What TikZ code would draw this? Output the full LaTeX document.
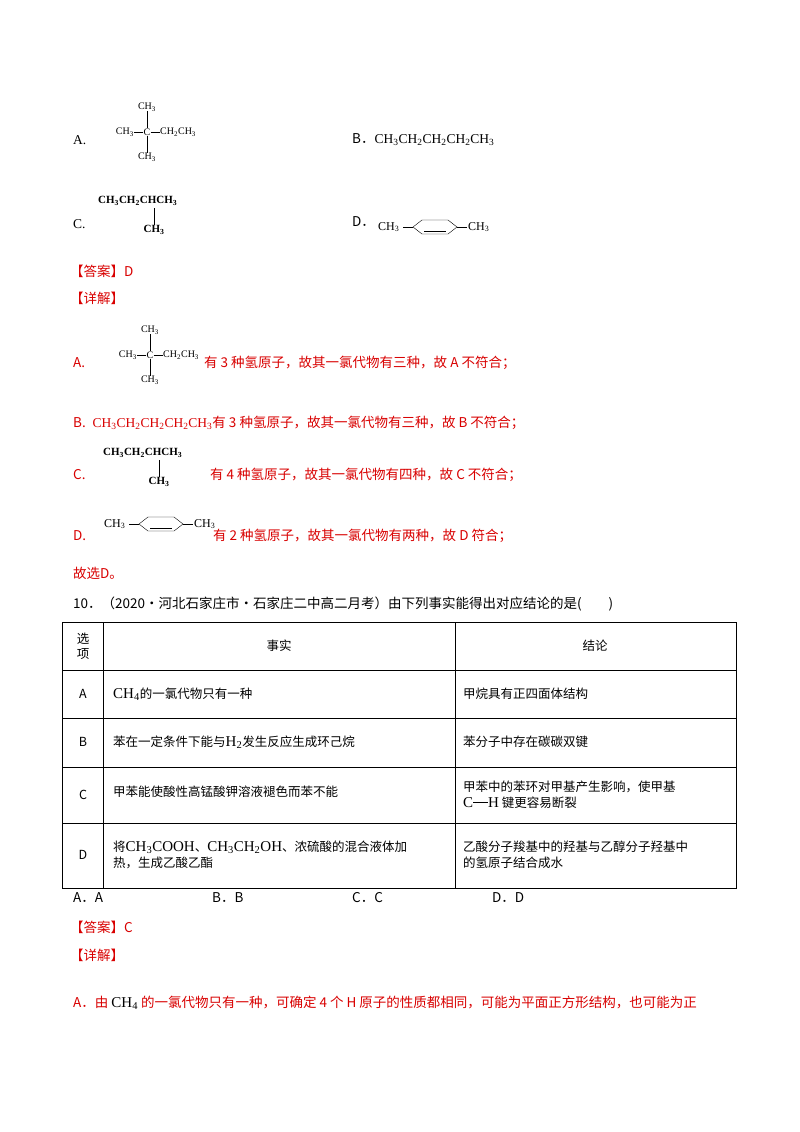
\documentclass[tikz,border=0pt]{standalone}
\usepackage{fontspec}
\usetikzlibrary{calc}
\setmainfont{Noto Sans CJK SC}
\newfontfamily\tnr{Liberation Serif}
\begin{document}
\begin{tikzpicture}[x=1pt,y=-1pt,
 t/.style={anchor=west,inner sep=0pt,font=\fontsize{13.5}{15}\selectfont},
 r/.style={t,text=red!85!black},
 chem/.style={inner sep=0pt,font=\tnr\fontsize{10}{11}\selectfont},
 tb/.style={anchor=west,inner sep=0pt,font=\fontsize{12.5}{16}\selectfont,align=left},
 tc/.style={inner sep=0pt,font=\fontsize{12.5}{15}\selectfont,align=center}]
\useasboundingbox[fill=white] (0,0) rectangle (800,1132);
\newcommand{\chemA}[2]{%
 \node[chem] (#1a) at (#2) {CH\textsubscript{3}};
 \node[chem,anchor=east] (#1b) at ($(#2)+(-13,25)$) {CH\textsubscript{3}};
 \node[chem] (#1c) at ($(#2)+(0,25)$) {C};
 \node[chem,anchor=west] (#1d) at ($(#2)+(13,25)$) {CH\textsubscript{2}CH\textsubscript{3}};
 \node[chem] (#1e) at ($(#2)+(0,50)$) {CH\textsubscript{3}};
 \draw (#1a)--(#1c) (#1c)--(#1e) (#1c)--(#1d) (#1c)--(#1b.east);}
\newcommand{\chemC}[2]{%
 \node[chem,font=\tnr\bfseries\fontsize{11}{12}\selectfont,anchor=west] (#1a) at (#2) {CH\textsubscript{3}CH\textsubscript{2}CHCH\textsubscript{3}};
 \node[chem,font=\tnr\bfseries\fontsize{11}{12}\selectfont] (#1b) at ($(#2)+(56,29)$) {CH\textsubscript{3}};
 \draw ($(#2)+(56,7)$) -- (#1b.north);}
\newcommand{\chemD}[2]{%
 \node[chem,font=\tnr\fontsize{12}{13}\selectfont,anchor=west] (#1a) at (#2) {CH\textsubscript{3}};
 \coordinate (#1p) at ($(#2)+(35,0)$);
 \draw ($(#2)+(25,0)$) -- (#1p);
 \draw (#1p) -- ++(9,-7) -- ++(26,0) -- ++(9,7) -- ++(-9,7) -- ++(-26,0) -- cycle;
 \draw ($(#1p)+(11,4)$) -- ++(22,0);
 \draw ($(#1p)+(44,0)$) -- ++(10,0);
 \node[chem,font=\tnr\fontsize{12}{13}\selectfont,anchor=west] (#1b) at ($(#1p)+(55,0)$) {CH\textsubscript{3}};}
% options
\node[t,font=\tnr\fontsize{13.5}{15}\selectfont] (la) at (73,140) {A.};
\chemA{qa}{147,107}
\node[t] (lb) at (352,140) {B．{\tnr CH\textsubscript{3}CH\textsubscript{2}CH\textsubscript{2}CH\textsubscript{2}CH\textsubscript{3}}};
\node[t,font=\tnr\fontsize{13.5}{15}\selectfont] (lc) at (73,224) {C.};
\chemC{qc}{98,201}
\node[t] (ld) at (352,222) {D．};
\chemD{qd}{378,227}
\node[r] (ans1) at (70,271) {【答案】D};
\node[r] (xj1) at (70,298) {【详解】};
% explanation
\node[r] (ea) at (73,363) {A.};
\chemA{ea}{150,330}
\node[r] (eat) at (204,363) {有 3 种氢原子，故其一氯代物有三种，故 A 不符合；};
\node[r] (eb) at (73,423) {B.\enspace{\tnr CH\textsubscript{3}CH\textsubscript{2}CH\textsubscript{2}CH\textsubscript{2}CH\textsubscript{3}}有 3 种氢原子，故其一氯代物有三种，故 B 不符合；};
\node[r] (ec) at (73,475) {C.};
\chemC{ec}{103,453}
\node[r] (ect) at (210,475) {有 4 种氢原子，故其一氯代物有四种，故 C 不符合；};
\node[r] (ed) at (73,536) {D.};
\chemD{ed}{104,524}
\node[r] (edt) at (213,536) {有 2 种氢原子，故其一氯代物有两种，故 D 符合；};
\node[r] (gx) at (73,573) {故选D。};
\node[t] (q10) at (73,604) {10．（2020·河北石家庄市·石家庄二中高二月考）由下列事实能得出对应结论的是(\qquad)};
% table
\draw[line width=0.8pt] (62,622) rectangle (736,888);
\foreach \yy in {670,718,767,823} \draw[line width=0.8pt] (62,\yy) -- (736,\yy);
\draw[line width=0.8pt] (103,622) -- (103,888) (455,622) -- (455,888);
\node[tc] (h1) at (83,646) {选\\项};
\node[tc] (h2) at (279,646) {事实};
\node[tc] (h3) at (595,646) {结论};
\node[tc] (ra) at (83,694) {A};
\node[tc] (rb) at (83,742) {B};
\node[tc] (rc) at (83,795) {C};
\node[tc] (rd) at (83,855) {D};
\node[tb] (fa) at (113,694) {{\tnr\fontsize{15}{15}\selectfont CH\textsubscript{4}}的一氯代物只有一种};
\node[tb] (ca) at (463,694) {甲烷具有正四面体结构};
\node[tb] (fb) at (113,742) {苯在一定条件下能与{\tnr\fontsize{15}{15}\selectfont H\textsubscript{2}}发生反应生成环己烷};
\node[tb] (cb) at (463,742) {苯分子中存在碳碳双键};
\node[tb] (fc) at (113,792) {甲苯能使酸性高锰酸钾溶液褪色而苯不能};
\node[tb] (cc) at (463,795) {甲苯中的苯环对甲基产生影响，使甲基\\{\tnr\fontsize{15}{15}\selectfont C\rule[0.3em]{1em}{1.3pt}H} 键更容易断裂};
\node[tb] (fd) at (113,855) {将{\tnr\fontsize{15}{15}\selectfont CH\textsubscript{3}COOH}、{\tnr\fontsize{15}{15}\selectfont CH\textsubscript{3}CH\textsubscript{2}OH}、浓硫酸的混合液体加\\热，生成乙酸乙酯};
\node[tb] (cd) at (463,855) {乙酸分子羧基中的羟基与乙醇分子羟基中\\的氢原子结合成水};
\node[t] (oa) at (73,898) {A．A};
\node[t] (ob) at (212,898) {B．B};
\node[t] (oc) at (352,898) {C．C};
\node[t] (od) at (492,898) {D．D};
\node[r] (ans2) at (70,927) {【答案】C};
\node[r] (xj2) at (70,955) {【详解】};
\node[r] (last) at (73,1003) {A．由 {\tnr\color{black}\fontsize{15}{15}\selectfont CH\textsubscript{4}} 的一氯代物只有一种，可确定 4 个 H 原子的性质都相同，可能为平面正方形结构，也可能为正};
\end{tikzpicture}
\end{document}
